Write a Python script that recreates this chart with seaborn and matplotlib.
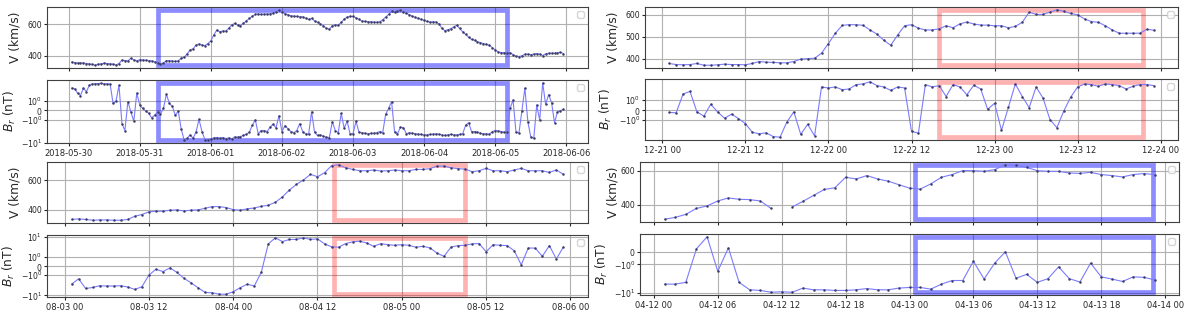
import numpy as np
import pandas as pd
import seaborn as sns
import matplotlib.pyplot as plt
import matplotlib.dates as mdates
from matplotlib.patches import Rectangle

sns.set_style('ticks')
plt.rcParams.update({
    'font.family': ['DejaVu Sans'],
    'axes.edgecolor': '0.25',
    'axes.linewidth': 0.8,
    'grid.color': '#b0b0b0',
    'grid.linewidth': 0.8,
    'xtick.labelsize': 6,
    'ytick.labelsize': 5.6,
    'xtick.major.size': 2.5,
    'ytick.major.size': 2,
    'xtick.major.pad': 2,
    'ytick.major.pad': 1.5,
    'xtick.major.width': 0.8,
    'ytick.major.width': 0.8,
    'xtick.minor.size': 0,
    'ytick.minor.size': 0,
    'axes.labelsize': 8.8,
})

# ---- event 1: 2018-05-30 .. 2018-06-05 (hourly)
t1_start, t1_n = '2018-05-30 01:00', 167
v1 = [357, 355, 353, 353, 353, 349, 347, 343, 338, 345, 347, 351, 349, 347, 345, 340, 349, 372, 368, 366, 383, 372, 366, 374,
      372, 370, 368, 366, 360, 353, 349, 351, 368, 368, 364, 362, 366, 383, 389, 411, 436, 443, 468, 474, 468, 464, 477, 494,
      532, 564, 553, 557, 557, 574, 596, 606, 596, 592, 606, 623, 638, 653, 664, 668, 664, 666, 666, 668, 672, 681, 694, 681,
      670, 662, 655, 653, 651, 649, 649, 640, 632, 638, 623, 613, 604, 591, 574, 570, 591, 596, 596, 613, 634, 647, 651, 651,
      643, 632, 621, 619, 617, 617, 615, 613, 617, 630, 647, 664, 683, 677, 685, 694, 681, 672, 662, 653, 645, 638, 632, 626,
      619, 615, 617, 615, 604, 574, 560, 566, 572, 585, 594, 574, 553, 536, 517, 504, 498, 489, 483, 477, 472, 466, 451, 436,
      423, 419, 419, 419, 419, 406, 396, 394, 398, 409, 409, 406, 409, 413, 409, 400, 411, 415, 415, 415, 417, 421, 413]
br1 = [2.8, 2.6, 1.75, 1.5, 2.8, 1.9, 4.0, 4.8, 5.0, 5.0, 5.2, 4.8, 4.8, 4.8, 0.7, 0.95, 4.0, -1.35, -2.1, 0.9, -0.15, -1.1, 1.75, 0.55,
       0.2, -0.05, -0.3, -0.75, -0.5, -0.15, -0.35, 0.2, 1.65, 0.7, 0.4, -0.5, -0.07, -1.9, -7.3, -5.7, -3.7, -5.7, -2.6, -0.9, -2.4, -6.8, -6.8, -6.5,
       -5.4, -5.2, -5.7, -5.2, -6.0, -5.4, -6.5, -4.8, -5.0, -4.6, -4.0, -3.4, -2.6, -1.5, -0.95, -3.2, -2.1, -2.1, -2.4, -1.7, -1.4, -1.75, -0.55, -2.4,
       -1.55, -1.85, -2.4, -2.8, -2.1, -1.35, -2.4, -3.2, -3.4, -0.15, -2.6, -4.0, -3.7, -4.4, -5.0, -5.2, -1.15, -2.1, -2.8, -0.3, -1.8, -1.1, -3.2, -3.2,
       -1.1, -2.6, -2.8, -3.0, -3.2, -3.0, -3.0, -2.8, -2.4, -2.8, -0.4, 0.2, 0.9, -2.4, -3.2, -1.7, -1.75, -3.2, -2.8, -3.0, -3.2, -3.4, -3.5, -3.7,
       -3.7, -3.5, -3.4, -3.2, -3.4, -3.7, -4.0, -3.7, -3.4, -3.7, -3.7, -3.5, -3.2, -1.5, -1.25, -2.4, -2.4, -2.6, -3.0, -3.2, -3.2, -3.4, -2.4, -2.1,
       -2.2, -2.4, -2.6, -2.6, 0.2, 1.06, -2.6, -2.8, -0.03, 2.8, -1.15, -5.0, -5.7, 0.55, -1.0, 5.5, 0.6, 1.6, 0.8, -1.25, -0.15, -0.03, 0.1]
box1 = ('2018-05-31 06:00', '2018-06-05 04:00')

# ---- event 2: 12-21 .. 12-23 (hourly)
t2_start, t2_n = '2018-12-21 01:00', 71
v2 = [378, 373, 372, 373, 378, 370, 370, 372, 375, 373, 373, 372, 378, 387, 384, 383, 381, 381, 387, 398, 400, 402, 425, 469,
      516, 552, 555, 555, 552, 531, 512, 484, 461, 508, 550, 555, 539, 531, 531, 536, 550, 541, 559, 567, 558, 553, 553, 550,
      550, 541, 547, 566, 612, 602, 602, 612, 623, 616, 606, 600, 581, 569, 566, 550, 531, 516, 516, 516, 516, 534, 530]
br2 = [-0.23, -0.27, 1.57, 1.83, -0.17, -0.6, 0.57, -0.2, -0.8, -0.4, -0.83, -1.33, -2.5, -3.06, -2.7, -4.3, -4.7, -1.17, -0.17, -3.3, -1.4, -3.95, 2.82, 2.48,
       2.82, 2.0, 2.18, 3.8, 4.13, 5.4, 3.33, 2.82, 1.93, 2.82, 2.48, -2.27, -2.82, 3.8, 2.82, 3.33, 1.33, 3.8, 2.82, 1.5, 3.5, 2.18, 0.07, 0.67,
       -2.0, 0.27, 4.1, 1.33, 0.23, 2.82, 1.17, -0.93, -1.73, -0.1, 1.27, 2.82, 4.1, 3.8, 3.06, 4.1, 3.8, 3.33, 2.18, 3.06, 3.8, 3.8, 3.33]
box2 = ('2018-12-22 16:00', '2018-12-23 21:30')

# ---- event 3: 08-03 .. 08-05 (hourly)
t3_start, t3_n = '2018-08-03 01:00', 71
v3 = [336, 340, 336, 331, 333, 333, 331, 331, 336, 358, 369, 387, 391, 391, 398, 400, 393, 398, 400, 411, 422, 422, 416, 402,
      398, 407, 413, 424, 431, 451, 487, 533, 571, 600, 638, 622, 649, 696, 702, 682, 671, 662, 662, 667, 660, 662, 667, 662,
      662, 671, 671, 676, 693, 693, 682, 676, 673, 656, 662, 678, 662, 662, 656, 667, 678, 662, 662, 662, 651, 667, 638]
br3 = [-2.0, -1.4, -3.7, -3.2, -2.5, -2.6, -2.6, -2.5, -3.0, -4.2, -2.9, -1.0, -0.34, -0.6, -0.19, -0.7, -1.35, -1.85, -3.3, -6.5, -6.8, -8.3, -8.3, -5.9,
       -3.3, -2.0, -2.6, -0.68, 3.7, 8.7, 5.1, 6.9, 6.9, 8.7, 6.9, 7.5, 3.7, 2.4, 2.3, 3.85, 4.9, 5.4, 4.2, 2.6, 3.8, 3.3, 3.0, 3.3,
       3.0, 2.3, 2.6, 2.1, 1.46, 1.09, 2.3, 2.9, 3.0, 3.7, 3.85, 1.6, 3.3, 3.0, 2.9, 1.7, 0.15, 2.06, 2.0, 1.09, 2.9, 0.79, 2.4]
box3 = ('2018-08-04 14:20', '2018-08-05 09:00')

# ---- event 4: 04-12 .. 04-13 (hourly, one missing V)
t4_start, t4_n = '2019-04-12 01:00', 47
v4 = [313, 324, 342, 377, 392, 421, 439, 431, 429, 421, 377, np.nan, 386, 419, 454, 489, 499, 561, 551, 571, 551, 538,
      517, 497, 491, 522, 561, 577, 600, 600, 596, 606, 635, 631, 619, 600, 596, 596, 586, 584, 590, 577, 571, 563, 577, 583, 577]
br4 = [-4.2, -4.2, -3.5, 0.24, 1.2, -1.56, 0.32, -3.5, -7.5, -8.0, -9.6, -9.2, -9.6, -6.3, -7.5, -7.5, -8.0, -8.0, -7.5, -6.6,
       -7.5, -7.5, -6.3, -5.9, -5.9, -7.0, -4.2, -2.9, -2.9, -0.75, -2.5, -0.9, 0.0, -2.3, -1.8, -3.5, -2.4, -1.2, -2.4, -3.4,
       -0.9, -2.0, -2.5, -3.2, -2.0, -2.1, -2.7]
box4 = ('2019-04-13 00:30', '2019-04-13 22:50')

v_ticks = {1: [400, 600], 2: [400, 500, 600], 3: [400, 600], 4: [400, 600]}

LINE = '#7b7bff'
MARK = '#3a3a5e'
BLUE_BOX = ('#0000ff', 0.45)
RED_BOX = ('#ff0000', 0.30)

W, H = 1188, 312
fig = plt.figure(figsize=(W / 100, H / 100), dpi=100)


def px_axes(x0, x1, ytop, ybot, **kw):
    return fig.add_axes([x0 / W, 1 - ybot / H, (x1 - x0) / W, (ybot - ytop) / H], **kw)


def draw_series(ax, t, y, box, box_style, ylabel, symlog=False):
    df = pd.DataFrame({'t': t, 'y': y})
    df['seg'] = df['y'].isna().cumsum()
    df = df.dropna()
    if symlog:
        ax.set_yscale('symlog', linthresh=2)
    sns.lineplot(data=df, x='t', y='y', units='seg', estimator=None, sort=False, ax=ax,
                 color=LINE, lw=0.8, marker='.', markersize=2.8,
                 markeredgecolor=MARK, markerfacecolor=MARK, markeredgewidth=0.3)
    x0 = mdates.date2num(pd.Timestamp(box[0]))
    x1 = mdates.date2num(pd.Timestamp(box[1]))
    lo, hi = df['y'].min(), df['y'].max()
    ax.add_patch(Rectangle((x0, lo), x1 - x0, hi - lo, fill=False,
                           edgecolor=box_style[0], alpha=box_style[1], lw=3.4, zorder=1))
    ax.grid(True)
    ax.set_xlabel('')
    ax.set_ylabel(ylabel)
    ax.legend(handles=[], loc='upper right', fontsize=6)


# pos: axes left/right, V top/bottom, Br top/bottom, V-label right edge, Br-label right edge (pixels)
panels = [
    (1, t1_start, t1_n, v1, br1, box1, BLUE_BOX, (47, 588, 7, 68, 80, 143, 21, 18),
     mdates.DayLocator(), '%Y-%m-%d'),
    (2, t2_start, t2_n, v2, br2, box2, RED_BOX, (645, 1178, 7, 68, 79, 140, 620, 614),
     mdates.HourLocator(byhour=[0, 12]), '%m-%d %H'),
    (3, t3_start, t3_n, v3, br3, box3, RED_BOX, (47, 588, 162, 223, 235, 297, 22, 17),
     mdates.HourLocator(byhour=[0, 12]), '%m-%d %H'),
    (4, t4_start, t4_n, v4, br4, box4, BLUE_BOX, (640, 1179, 162, 222, 234, 295, 619, 610),
     mdates.HourLocator(byhour=[0, 6, 12, 18]), '%m-%d %H'),
]

for k, start, n, v, br, box, style, pos, loc, fmt in panels:
    times = pd.date_range(start, periods=n, freq='h')
    x0, x1, vt, vb, bt, bb, lv, lb = pos
    ax_v = px_axes(x0, x1, vt, vb)
    ax_b = px_axes(x0, x1, bt, bb, sharex=ax_v)
    draw_series(ax_v, times, v, box, style, 'V (km/s)')
    draw_series(ax_b, times, br, box, style, '$B_r$ (nT)', symlog=True)
    ax_v.set_yticks(v_ticks[k])
    ax_b.xaxis.set_major_locator(loc)
    ax_b.xaxis.set_major_formatter(mdates.DateFormatter(fmt))
    ax_v.tick_params(labelbottom=False)
    ax_v.yaxis.set_label_coords((lv - x0) / (x1 - x0), 0.5)
    ax_b.yaxis.set_label_coords((lb - x0) / (x1 - x0), 0.5)

fig.savefig('out.png', dpi=100)
